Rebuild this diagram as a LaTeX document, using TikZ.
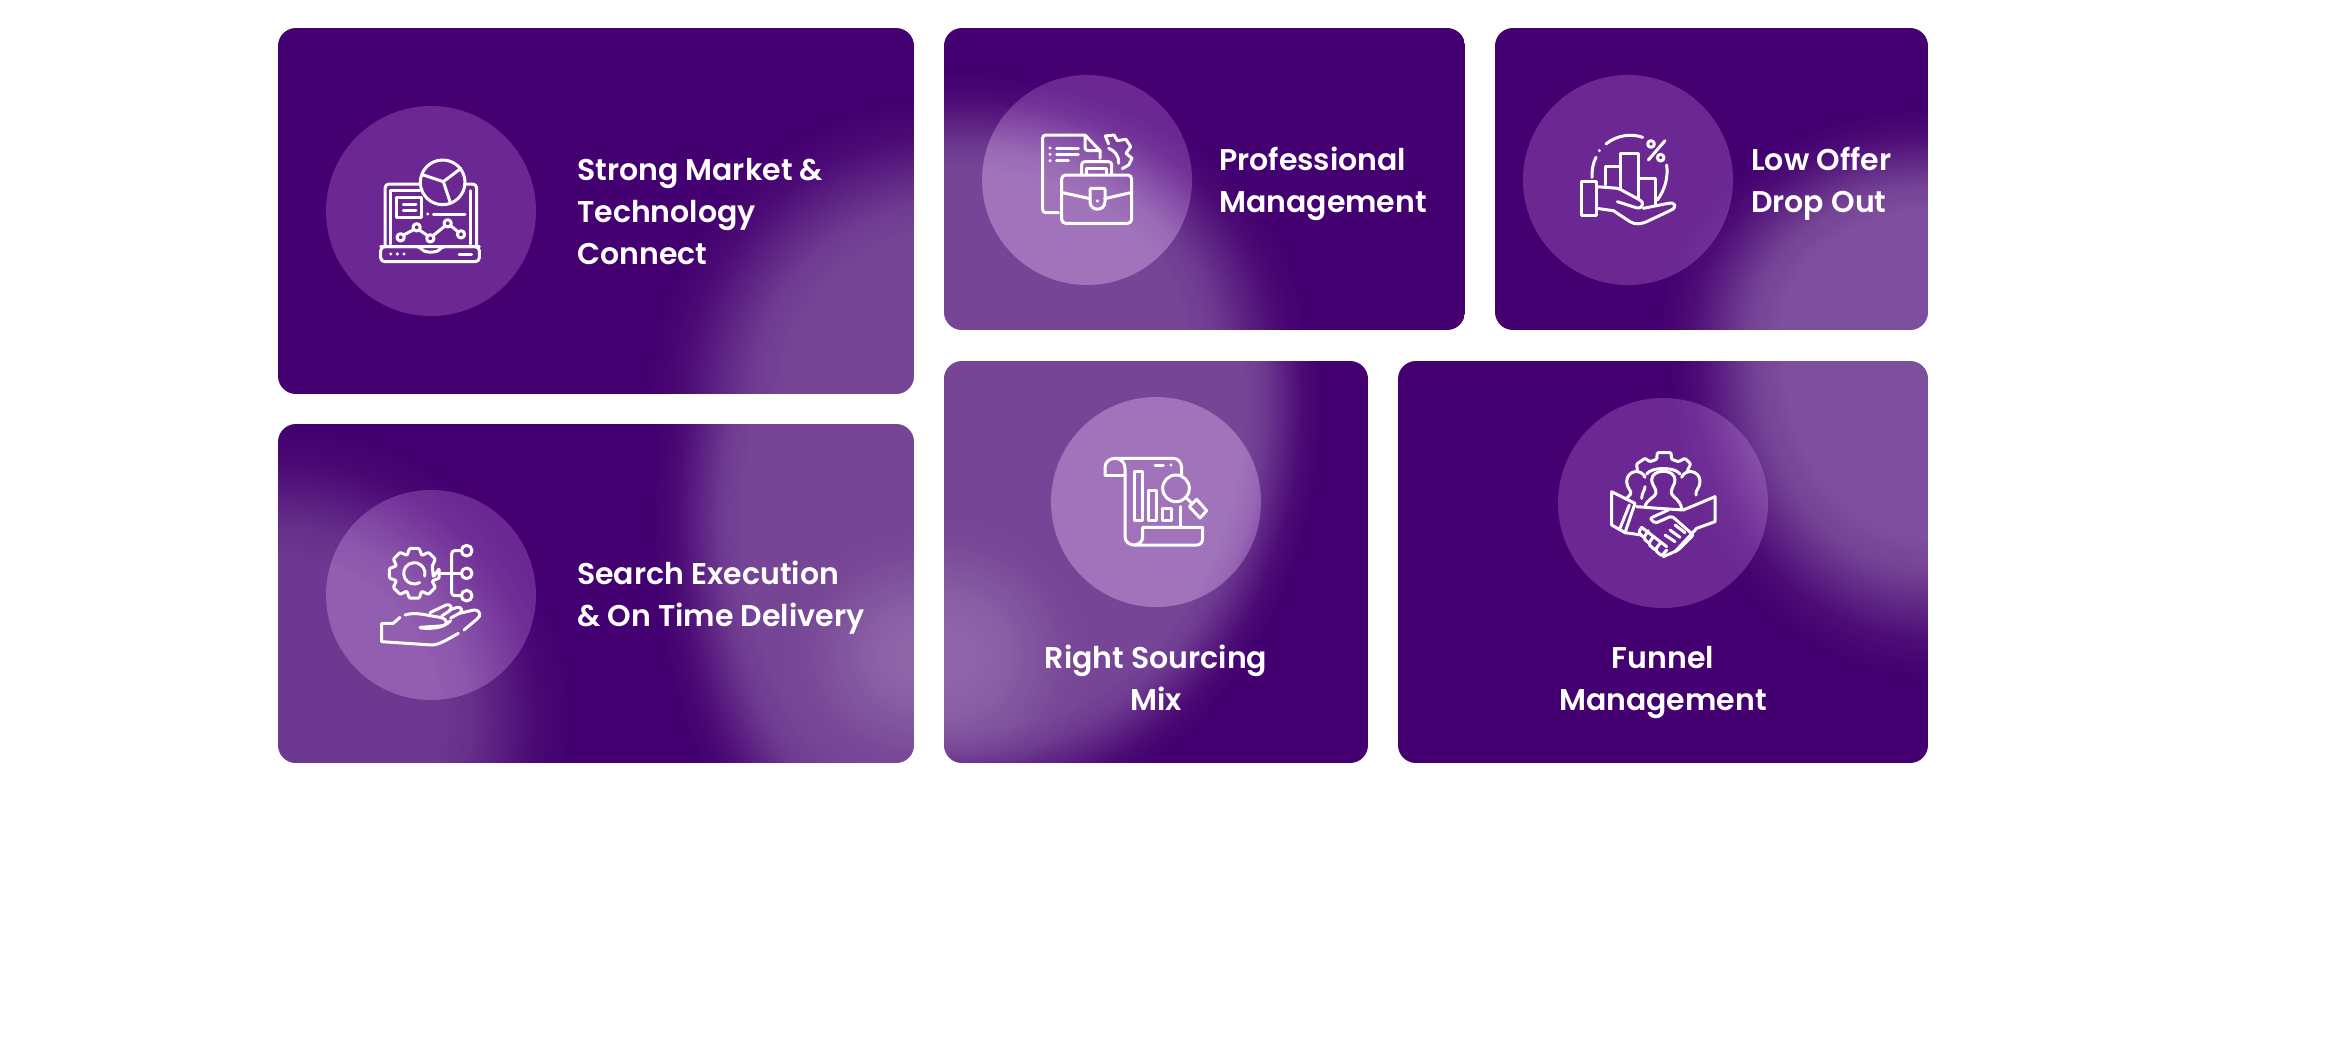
\documentclass[tikz,border=0pt]{standalone}
\usepackage{fontspec}
\setmainfont{Poppins SemiBold}
\usetikzlibrary{fadings}
\definecolor{basepurple}{HTML}{440070}
\definecolor{discfill}{RGB}{224,160,252}
% soft radial fadings with a solid plateau of the given share of the radius
\newcommand{\defblob}[2]{%
  \pgfmathsetmacro{\sa}{#2*25}%
  \pgfmathsetmacro{\sb}{(#2+(1-#2)*.25)*25}%
  \pgfmathsetmacro{\sc}{(#2+(1-#2)*.5)*25}%
  \pgfmathsetmacro{\sd}{(#2+(1-#2)*.75)*25}%
  \edef\tmpdecl{\noexpand\pgfdeclareradialshading{#1shade}{\noexpand\pgfpointorigin}{color(0bp)=(pgftransparent!0); color(\sa bp)=(pgftransparent!0); color(\sb bp)=(pgftransparent!15); color(\sc bp)=(pgftransparent!50); color(\sd bp)=(pgftransparent!85); color(25bp)=(pgftransparent!100); color(50bp)=(pgftransparent!100)}}%
  \tmpdecl
  \pgfdeclarefading{#1}{\pgfuseshading{#1shade}}}
\defblob{blobA}{.1}
\defblob{blobB}{.2}
\defblob{blobD}{.55}
\defblob{blobE}{.65}
\defblob{blobF}{.78}
\tikzset{
  x=1pt,y=-1pt,
  ic/.style={draw=white,line width=3pt,line cap=round,line join=round},
  disc/.style={circle,fill=discfill,fill opacity=.25,minimum size=210pt,inner sep=0pt,draw=none},
  lbl/.style={text=white,inner sep=0pt,font=\fontsize{30}{42}\selectfont},
}
% cx cy a b fading opacity
\newcommand{\blobat}[6]{\fill[white,fill opacity=#6,path fading=#5] ({#1-#3},{#2-#4}) rectangle ({#1+#3},{#2+#4});}
\newcommand{\cardbg}[5]{%
  \begin{scope}
    \clip[rounded corners=18pt] (#1,#2) rectangle (#3,#4);
    \fill[basepurple] (#1,#2) rectangle (#3,#4);
    #5
  \end{scope}}
\newcommand{\discboost}[3]{%
  \begin{scope}
    \clip (#1,#2) circle (105);
    #3
  \end{scope}}
\begin{document}
\begin{tikzpicture}
\useasboundingbox (0,0) rectangle (2334,1057);
\fill[white] (0,0) rectangle (2334,1057);

\cardbg{278}{28}{914}{394}{\blobat{950}{400}{300}{300}{blobD}{.27}}
\cardbg{944}{28}{1465}{330}{\blobat{960}{350}{345}{275}{blobE}{.27}}
\cardbg{1495}{28}{1928}{330}{\blobat{1930}{335}{270}{225}{blobD}{.31}}
\cardbg{278}{424}{914}{763}{\blobat{914}{520}{260}{420}{blobE}{.27}\blobat{925}{655}{150}{130}{blobA}{.18}\blobat{278}{720}{290}{290}{blobD}{.22}}
\cardbg{944}{361}{1368}{763}{\blobat{970}{400}{350}{420}{blobF}{.27}\blobat{944}{655}{150}{140}{blobB}{.17}}
\cardbg{1398}{361}{1928}{763}{\blobat{1930}{365}{260}{310}{blobD}{.31}}

\node[disc] (d1) at (431,211) {};
\node[disc] (d2) at (1087,180) {};
\node[disc] (d3) at (1628,180) {};
\node[disc] (d4) at (431,595) {};
\node[disc] (d5) at (1156,502) {};
\node[disc] (d6) at (1663,503) {};
\discboost{1087}{180}{\blobat{960}{350}{345}{275}{blobE}{.15}}
\discboost{431}{595}{\blobat{278}{720}{290}{290}{blobD}{.07}}
\discboost{1156}{502}{\blobat{970}{400}{350}{420}{blobF}{.15}}

\node[lbl,align=left,anchor=west] (t1) at (577,212) {Strong Market \&\\Technology\\Connect};
\node[lbl,align=left,anchor=west] (t2) at (1219,184) {Professional\\Management};
\node[lbl,align=left,anchor=west] (t3) at (1751,184) {Low Offer\\Drop Out};
\node[lbl,align=left,anchor=west] (t4) at (577,598) {Search Execution\\\& On Time Delivery};
\node[lbl,align=center] (t5) at (1156,678) {Right Sourcing\\Mix};
\node[lbl,align=center] (t6) at (1663,682) {Funnel\hspace{6pt}\\Management};

% laptop icon
\begin{scope}[shift={(360,140)},scale=1/3]
  \draw[ic,rounded corners=4pt] (62,320) -- (62,365) -- (358,365) -- (358,320) -- cycle;
  \draw[ic] (62,320) -- (170,320) .. controls (185,320) and (185,336) .. (205,336) -- (220,336) .. controls (240,336) and (240,320) .. (255,320) -- (358,320);
  \draw[ic,rounded corners=4pt] (75,320) -- (75,132) -- (182,132);
  \draw[ic,rounded corners=4pt] (314,132) -- (350,132) -- (350,320);
  \draw[ic] (92,312) -- (92,152) -- (180,152);
  \draw[ic] (332,152) -- (332,312);
  \draw[ic] (248,127) circle (67);
  \draw[ic] (190,105) -- (250,125) -- (303,85);
  \draw[ic] (250,125) -- (270,185);
  \draw[ic] (110,172) rectangle (185,232);
  \draw[ic] (130,192) -- (168,192);
  \draw[ic] (130,212) -- (168,212);
  \fill[white] (203,222) circle (5);
  \draw[ic] (220,222) -- (315,222);
  \draw[ic] (122,292) circle (11) (170,262) circle (11) (211,295) circle (11) (263,250) circle (11) (303,283) circle (11);
  \draw[ic] (131,285) -- (161,269) (178,270) -- (203,287) (219,287) -- (255,258) (272,257) -- (295,276);
  \fill[white] (92,342) circle (5) (112,342) circle (5) (132,342) circle (5);
  \draw[ic] (297,342) -- (335,342);
\end{scope}

% gear and hand icon
\begin{scope}[shift={(360,530)},scale=1/3]
  \begin{scope}[shift={(163,130)}]
    \draw[ic,rounded corners=1pt] (11:58)
      \foreach \a in {0,45,...,315}{ -- ({\a-11}:76) -- ({\a+11}:76) -- ({\a+23}:58) }
      -- cycle;
    \draw[ic] (60:32) arc (60:375:32);
  \end{scope}
  \draw[ic] (240,130) -- (305,130);
  \draw[ic,rounded corners=3pt] (305,62) -- (275,62) -- (275,197) -- (305,197);
  \draw[ic] (320,62) circle (16) (320,130) circle (16) (320,197) circle (16);
  \draw[ic] (120,262) -- (100,280) -- (65,280) -- (65,335) -- (215,345) .. controls (235,345) and (260,330) .. (295,310);
  \draw[ic] (135,255) .. controls (165,245) and (195,255) .. (240,262) .. controls (268,268) and (265,288) .. (240,288) -- (180,292);
  \draw[ic] (210,248) -- (258,225) .. controls (272,220) and (280,235) .. (268,243) -- (245,258);
  \draw[ic] (268,240) -- (292,232) .. controls (305,230) and (310,245) .. (298,250) -- (272,264);
  \draw[ic] (298,250) -- (342,240) .. controls (362,240) and (365,258) .. (350,268) -- (312,300);
  \draw[ic] (272,272) .. controls (250,295) and (215,297) .. (182,294);
\end{scope}

% briefcase icon
\begin{scope}[shift={(1020,120)},scale=1/3]
  \draw[ic,rounded corners=3pt] (115,278) -- (68,278) -- (68,45) -- (195,45);
  \draw[ic] (195,45) -- (240,92) -- (240,115);
  \draw[ic,rounded corners=3pt] (195,48) -- (195,92) -- (240,92);
  \fill[white] (90,84) circle (5) (90,103) circle (5) (90,122) circle (5);
  \draw[ic] (110,84) -- (175,84) (110,103) -- (175,103) (110,122) -- (145,122);
  \draw[ic] (266,72) -- (256,48) -- (282,45) -- (292,62) -- (318,58) -- (332,80) -- (318,100) -- (336,115) -- (326,135) -- (307,146);
  \draw[ic] (266,85) .. controls (285,92) and (298,110) .. (296,130);
  \draw[ic,rounded corners=4pt] (125,165) rectangle (335,310);
  \draw[ic,rounded corners=3pt] (185,165) -- (185,125) -- (275,125) -- (275,165);
  \draw[ic] (200,165) -- (200,145) -- (260,145) -- (260,165);
  \draw[ic] (128,218) -- (210,236) (254,236) -- (332,218);
  \draw[ic] (210,210) .. controls (210,205) and (212,205) .. (216,205) -- (249,205) .. controls (253,205) and (255,205) .. (255,210) -- (255,245) .. controls (255,275) and (210,275) .. (210,245) -- cycle;
  \fill[white] (232,243) circle (5);
\end{scope}

% hand and bars icon
\begin{scope}[shift={(1570,120)},scale=1/3]
  \draw[ic] (35,185) rectangle (80,285);
  \draw[ic] (105,195) -- (105,140) -- (152,140);
  \draw[ic] (152,205) -- (152,100) -- (205,100) -- (205,235);
  \draw[ic] (205,175) -- (255,175) -- (255,255);
  \draw[ic,rounded corners=2pt] (80,200) -- (145,205) -- (210,240) .. controls (222,250) and (215,268) .. (195,262) -- (142,245);
  \draw[ic] (80,265) -- (130,272) -- (180,305) .. controls (195,315) and (215,312) .. (230,305) -- (300,272) .. controls (325,262) and (315,245) .. (295,250) -- (220,265);
  \draw[ic] (108,72) .. controls (140,45) and (185,40) .. (218,52);
  \fill[white] (88,92) circle (5);
  \draw[ic] (78,112) .. controls (68,130) and (65,155) .. (66,172);
  \draw[ic] (290,135) .. controls (295,170) and (285,210) .. (262,240);
  \draw[ic] (235,120) -- (285,62);
  \draw[ic] (243,72) circle (10) (272,113) circle (10);
\end{scope}

% scroll icon
\begin{scope}[shift={(1090,440)},scale=1/3]
  \draw[ic] (45,105) -- (45,82) .. controls (45,65) and (60,55) .. (75,55) -- (250,55) .. controls (265,55) and (275,68) .. (275,85) -- (275,105);
  \draw[ic] (45,105) -- (105,105);
  \draw[ic] (75,55) .. controls (95,55) and (105,70) .. (105,85) -- (105,290) .. controls (105,305) and (118,315) .. (132,315) -- (320,315) .. controls (332,315) and (338,305) .. (338,295) -- (338,262) -- (158,262) -- (158,292) .. controls (158,305) and (145,315) .. (132,315);
  \draw[ic] (132,95) rectangle (158,240);
  \draw[ic] (175,150) rectangle (198,240);
  \draw[ic] (218,205) rectangle (245,240);
  \draw[ic] (272,200) -- (272,260);
  \draw[ic] (195,75) -- (220,75);
  \fill[white] (243,75) circle (5);
  \draw[ic] (258,145) circle (40);
  \draw[ic] (288,172) -- (305,190);
  \draw[ic] (320,178) -- (350,212) -- (330,234) -- (298,200) -- cycle;
\end{scope}

% handshake icon
\begin{scope}[shift={(1600,440)},scale=1/3]
  \draw[ic,rounded corners=1pt] (112,92) -- (110,72) -- (135,55) -- (150,65) -- (170,58) -- (172,38) -- (213,38) -- (215,58) -- (235,65) -- (255,55) -- (272,72) -- (262,92);
  \draw[ic] (140,102) .. controls (155,80) and (225,80) .. (240,102);
  \draw[ic] (168,160) .. controls (170,145) and (155,135) .. (155,120) .. controls (155,85) and (225,85) .. (225,120) .. controls (225,135) and (212,145) .. (214,160) .. controls (218,172) and (240,178) .. (245,205);
  \draw[ic] (168,160) .. controls (165,172) and (140,178) .. (135,200);
  \draw[ic] (125,175) .. controls (125,160) and (135,150) .. (135,140) ;
  \draw[ic] (135,112) .. controls (125,85) and (80,90) .. (80,125) .. controls (80,145) and (95,150) .. (92,162) -- (80,175);
  \draw[ic] (245,112) .. controls (255,85) and (300,90) .. (300,125) .. controls (300,145) and (285,150) .. (288,165);
  \draw[ic] (35,155) -- (105,190) -- (75,278) -- (35,255) -- cycle;
  \draw[ic] (88,195) -- (60,265);
  \draw[ic] (345,170) -- (250,210) -- (175,205) -- (110,200);
  \draw[ic] (345,170) -- (345,245) -- (290,265) -- (225,335);
  \draw[ic,rounded corners=2pt] (205,210) -- (150,235) -- (165,250) -- (215,228) -- (280,285) -- (235,330) -- (190,350);
  \draw[ic] (75,278) -- (125,285);
  \draw[ic,rounded corners=2pt] (125,262) -- (115,278) -- (135,295);
  \draw[ic,rounded corners=2pt] (145,272) -- (130,295) -- (150,312);
  \draw[ic,rounded corners=2pt] (160,290) -- (145,312) -- (165,330);
  \draw[ic,rounded corners=2pt] (180,310) -- (165,330) -- (185,348) -- (200,330);
  \draw[ic] (125,262) -- (200,320);
  \draw[ic] (195,285) -- (225,305) (210,270) -- (240,292) (225,255) -- (255,278);
\end{scope}
\end{tikzpicture}
\end{document}
